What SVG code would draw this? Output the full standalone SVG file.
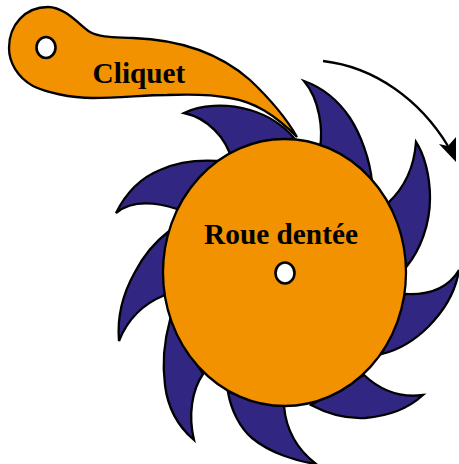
<svg xmlns="http://www.w3.org/2000/svg" width="459" height="464" viewBox="0 0 459 464">
<style>
.tooth{fill:#312783;stroke:#000;stroke-width:2.3;stroke-linejoin:miter}
.body{fill:#f39200;stroke:#000;stroke-width:2.3}
.hole{fill:#fff;stroke:#000;stroke-width:2.6}
.label{font-family:"Liberation Serif","Times New Roman",serif;font-weight:700;font-size:29.300px;fill:#000}
</style>
<g id="teeth">
<path class="tooth" d="M184 113C200 105 225 103 250 110C270 116 283 125 294 138L232 160C226 138 208 118 184 113Z"/>
<path class="tooth" d="M304 81C318 86 336 97 350 118C361 135 370 160 372 182L320 148C323 130 320 100 304 81Z"/>
<path class="tooth" d="M416 142C424 154 430 175 430 198C430 225 420 250 407 266L388 203C402 190 414 170 416 142Z"/>
<path class="tooth" d="M459 270C456 290 445 310 428 327C414 341 398 350 382 354L405 294C425 295 447 290 459 270Z"/>
<path class="tooth" d="M423 395C410 407 390 416 365 418C345 419 326 413 311 405L364 375C380 390 400 398 423 395Z"/>
<path class="tooth" d="M316 464C296 461 270 453 252 438C240 428 231 410 228 392L284 406C286 430 298 450 316 464Z"/>
<path class="tooth" d="M194 440C180 428 168 410 165 385C162 362 165 338 170 320L203 374C192 390 188 415 194 440Z"/>
<path class="tooth" d="M119 341C117 318 122 295 135 272C145 253 155 242 168 232L165 295C145 303 128 318 119 341Z"/>
<path class="tooth" d="M116 213C125 195 140 178 160 170C178 162 200 160 217 161L177 209C155 202 132 200 116 213Z"/>
</g>
<g id="roue">
<ellipse class="body" cx="284.500" cy="272.500" rx="121.500" ry="133.500"/>
<ellipse class="hole" cx="285" cy="273" rx="9.500" ry="10.500"/>
<text class="label" x="281" y="244" text-anchor="middle">Roue dentée</text>
</g>
<g id="cliquet">
<path class="body" d="M297 137C285 116 268 97 250 80C225 58 190 40 133 38C115 37 101 38 90 32C81 27 66 7 48 7C25 7 9 25 9 48C9 62 17 77 33 86C45 92 70 98 93 98C120 98 145 95 167 95C190 94 215 95 230 98C255 102 275 115 297 137Z"/>
<ellipse class="hole" cx="46" cy="47.500" rx="9.500" ry="10.500"/>
<text class="label" x="139" y="83" text-anchor="middle">Cliquet</text>
</g>
<g id="connectors">
<path d="M323 61C375 67 420 100 448 146" fill="none" stroke="#000" stroke-width="2.300"/>
<path d="M439 144L448 146L456 137L456 162Z" fill="#000"/>
</g>
</svg>
